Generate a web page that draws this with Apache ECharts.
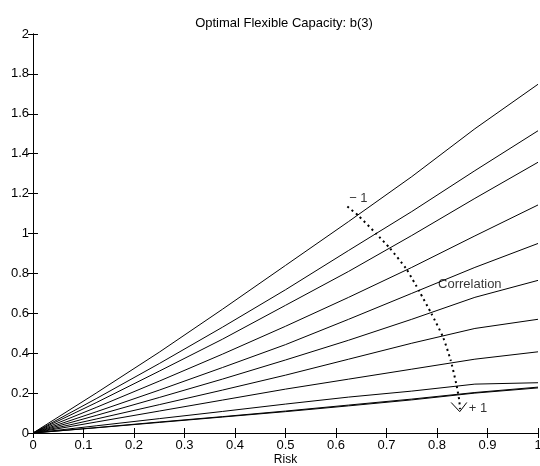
<!DOCTYPE html>
<html>
<head>
<meta charset="utf-8">
<script src="https://cdn.jsdelivr.net/npm/echarts@6/dist/echarts.min.js"></script>
<style>
  html, body { margin: 0; padding: 0; background: #fff; }
  #chart { width: 540px; height: 466px; }
</style>
</head>
<body>
<div id="chart"></div>
<script>
// risk values where each curve was read
const risk = [0, 0.125, 0.25, 0.375, 0.5, 0.625, 0.75, 0.875, 1.0];

// one curve per correlation, from -1 (top) to +1 (bottom)
const curve1  = [0, 0.2, 0.405, 0.62, 0.84, 1.06, 1.285, 1.525, 1.748];
const curve2  = [0, 0.172, 0.348, 0.53, 0.718, 0.915, 1.11, 1.315, 1.515];
const curve3  = [0, 0.152, 0.31, 0.47, 0.64, 0.81, 0.99, 1.176, 1.357];
const curve4  = [0, 0.128, 0.26, 0.395, 0.535, 0.68, 0.83, 0.988, 1.143];
const curve5  = [0, 0.106, 0.215, 0.328, 0.443, 0.57, 0.70, 0.83, 0.95];
const curve6  = [0, 0.088, 0.178, 0.27, 0.366, 0.465, 0.57, 0.68, 0.765];
const curve7  = [0, 0.07, 0.142, 0.215, 0.29, 0.37, 0.45, 0.524, 0.57];
const curve8  = [0, 0.055, 0.11, 0.165, 0.22, 0.27, 0.32, 0.37, 0.407];
const curve9  = [0, 0.036, 0.072, 0.108, 0.145, 0.18, 0.21, 0.245, 0.252];
const curve10 = [0, 0.027, 0.055, 0.082, 0.11, 0.14, 0.17, 0.203, 0.23];
const curve11 = [0, 0.026, 0.053, 0.08, 0.107, 0.136, 0.166, 0.2, 0.226];

// dotted "correlation" arrow
const arrowX = [0.6225, 0.644, 0.68, 0.706, 0.739, 0.765, 0.789, 0.812, 0.827, 0.838, 0.844, 0.8455];
const arrowY = [1.135, 1.09, 0.998, 0.928, 0.823, 0.71, 0.598, 0.48, 0.365, 0.248, 0.165, 0.12];
const headX = [0.828, 0.845, 0.859];
const headY = [0.153, 0.107, 0.153];

// text notes: [risk, value, text]
const notes = [
  [0.626, 1.178, '\u2212 1'],
  [0.863, 0.125, '+ 1'],
  [0.802, 0.747, 'Correlation']
];

const xTicks = [0, 0.1, 0.2, 0.3, 0.4, 0.5, 0.6, 0.7, 0.8, 0.9, 1];
const yTicks = [0, 0.2, 0.4, 0.6, 0.8, 1, 1.2, 1.4, 1.6, 1.8, 2];

const curves = [curve1, curve2, curve3, curve4, curve5, curve6, curve7, curve8, curve9, curve10, curve11];

const font = 'Liberation Sans, Arial, Helvetica, sans-serif';

function pairs(xs, ys) {
  return xs.map((x, i) => [x, ys[i]]);
}

let series = curves.map((c, i) => ({
  name: 'c' + i,
  type: 'line',
  data: pairs(risk, c),
  symbol: 'none',
  lineStyle: { color: '#000', width: 1 },
  animation: false
}));

series.push({
  type: 'line',
  data: pairs(arrowX, arrowY),
  symbol: 'none',
  smooth: 0.2,
  lineStyle: { color: '#000', width: 2, type: [2, 3.5] },
  animation: false
});
series.push({
  type: 'line',
  data: pairs(headX, headY),
  symbol: 'none',
  lineStyle: { color: '#000', width: 1 },
  animation: false
});
series.push({
  type: 'scatter',
  data: notes.map(n => ({ value: [n[0], n[1]], text: n[2] })),
  symbolSize: 0,
  label: {
    show: true,
    position: 'right',
    distance: 0,
    color: '#000',
    fontSize: 13,
    fontFamily: font,
    formatter: p => p.data.text
  },
  animation: false
});

let axisCommon = {
  type: 'value',
  axisLine: { lineStyle: { color: '#000', width: 1 } },
  axisTick: { inside: true, length: 5, lineStyle: { color: '#000' } },
  splitLine: { show: false }
};

let chart = echarts.init(document.getElementById('chart'));
chart.setOption({
  backgroundColor: '#fff',
  title: {
    text: 'Optimal Flexible Capacity: b(3)',
    left: 279,
    textAlign: 'center',
    top: 12,
    textStyle: { fontSize: 13, fontWeight: 'normal', color: '#000', fontFamily: font }
  },
  grid: { left: 33, right: 2, top: 34, bottom: 33, outerBoundsMode: 'none', containLabel: false },
  xAxis: [
    Object.assign({}, axisCommon, {
      min: 0, max: 1, interval: 0.1, position: 'bottom',
      name: 'Risk', nameLocation: 'middle', nameGap: 21, nameMoveOverlap: false,
      nameTextStyle: { fontSize: 12, color: '#000', fontFamily: font },
      axisLabel: {
        color: '#000', fontSize: 13, fontFamily: font, margin: 6,
        formatter: v => xTicks.includes(+v.toFixed(2)) ? String(+v.toFixed(2)) : ''
      }
    }),
    Object.assign({}, axisCommon, {
      min: 0, max: 1, interval: 0.1, position: 'top',
      axisLabel: { show: false }
    })
  ],
  yAxis: [
    Object.assign({}, axisCommon, {
      min: 0, max: 2, interval: 0.2, position: 'left',
      axisLabel: {
        color: '#000', fontSize: 13, fontFamily: font, margin: 4,
        formatter: v => yTicks.includes(+v.toFixed(2)) ? String(+v.toFixed(2)) : ''
      }
    }),
    Object.assign({}, axisCommon, {
      min: 0, max: 2, interval: 0.2, position: 'right',
      axisLabel: { show: false }
    })
  ],
  series: series
});
</script>
</body>
</html>
